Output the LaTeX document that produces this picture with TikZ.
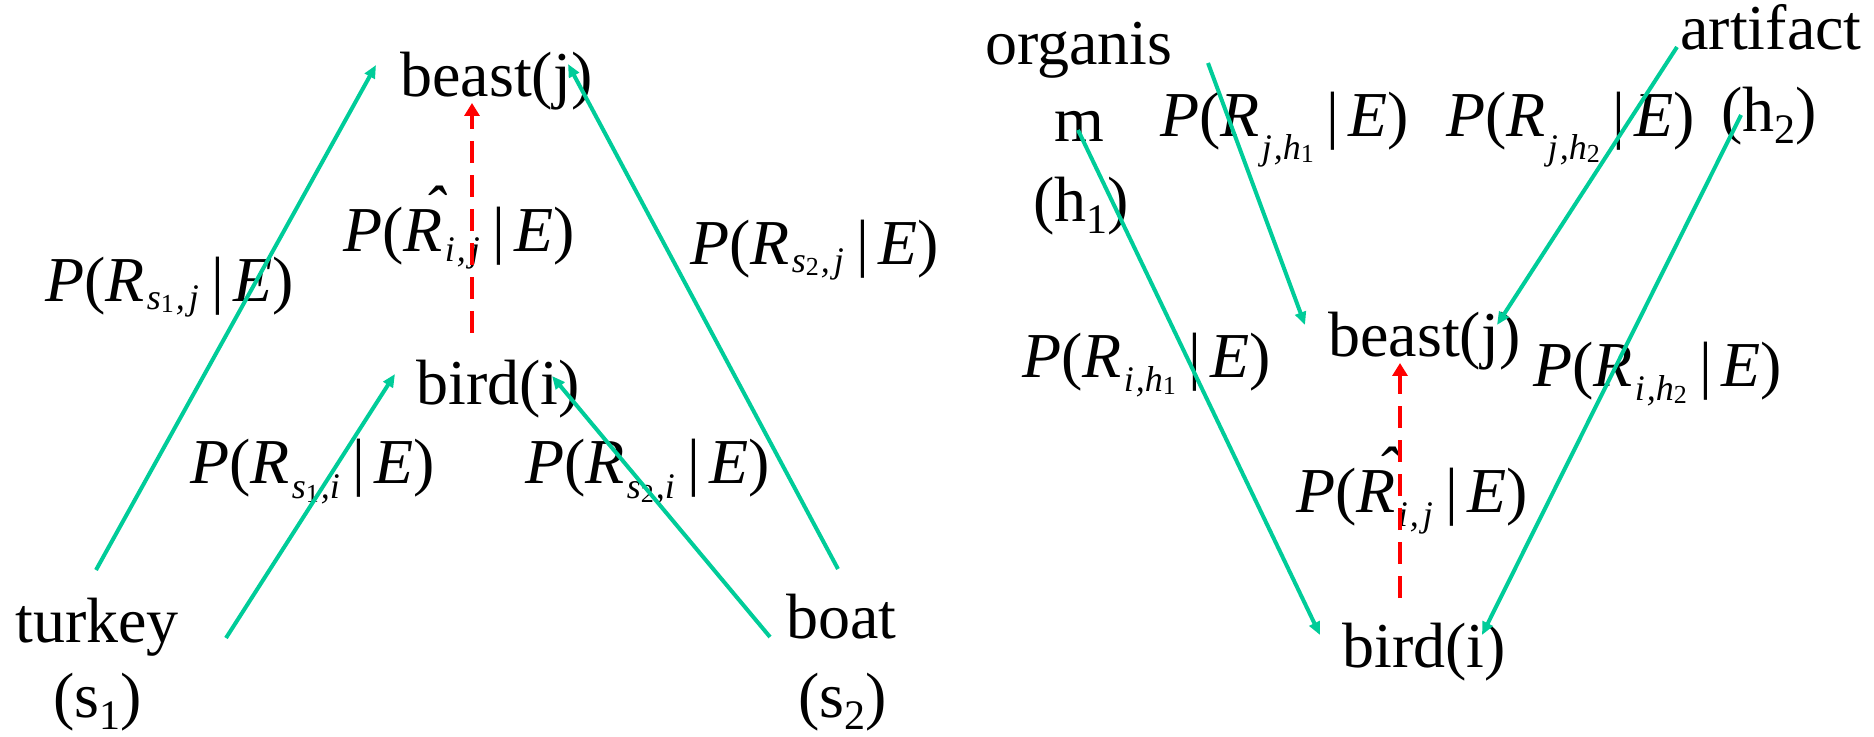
\documentclass[tikz,border=0pt]{standalone}
\usepackage{fontspec}
\setmainfont{Liberation Serif}
\usetikzlibrary{arrows.meta}
\definecolor{tgreen}{RGB}{0,204,153}
\newcommand\subpart[2]{\raisebox{-#1}{\fontsize{18}{18}\selectfont #2}}
\newcommand\subsub[1]{\raisebox{-1.5pt}{\fontsize{13}{13}\selectfont\upshape #1}}
\newcommand\Rhat{\makebox[0pt][l]{\hspace{10pt}\raisebox{10.5pt}{\char"02C6}}R}
\newcommand\lab[3]{{\fontsize{32}{40}\selectfont\itshape P\upshape(\itshape #1\hspace{1pt}\subpart{#2}{#3}\hspace{6.5pt}\upshape|\hspace{4.5pt}\itshape E\upshape)}}
\newcommand\txtsub[1]{\raisebox{-6pt}{\fontsize{21}{21}\selectfont #1}}
\begin{document}
\begin{tikzpicture}[x=0.5pt,y=-0.5pt,
  word/.style={anchor=base west,inner sep=0pt,font=\fontsize{32}{38}\selectfont},
  mlab/.style={anchor=base west,inner sep=0pt},
  garrow/.style={draw=tgreen,line width=2pt,-{Triangle[length=6.5pt,width=5.5pt]},tgreen},
  rarrow/.style={draw=red,line width=2.2pt,dash pattern=on 11pt off 6pt,-{Triangle[length=6.5pt,width=7.5pt]},red}]
\useasboundingbox (0,0) rectangle (1874,737);
% ---------- left panel ----------
\node[word] (beastL) at (400,97) {beast(j)};
\node[word] (birdL) at (416,405) {bird(i)};
\node[word] (turkey) at (15,642) {turkey};
\node[word] (s1) at (53,717) {(s\txtsub{1})};
\node[word] (boat) at (786,638) {boat};
\node[word] (s2) at (798,717) {(s\txtsub{2})};
\node[mlab] (l1) at (45,302) {\lab{R}{4pt}{\textit{s}\subsub{1}\hspace{1pt},\hspace{2pt}\textit{j}}};
\node[mlab] (l2) at (343,252) {\lab{\Rhat}{5pt}{\textit{i}\hspace{1pt},\hspace{2pt}\textit{j}}};
\node[mlab] (l3) at (690,265) {\lab{R}{4pt}{\textit{s}\subsub{2}\hspace{1pt},\hspace{2pt}\textit{j}}};
\node[mlab] (l4) at (190,483) {\lab{R}{8pt}{\textit{s}\subsub{1}\hspace{1pt},\textit{i}}};
\node[mlab] (l5) at (525,483) {\lab{R}{8pt}{\textit{s}\subsub{2}\hspace{1pt},\textit{i}}};
\coordinate (a1s) at (96,570);   \coordinate (a1e) at (376,65);
\coordinate (a2s) at (226,638);  \coordinate (a2e) at (395,374);
\coordinate (a3s) at (770,637);  \coordinate (a3e) at (552,376);
\coordinate (a4s) at (838,569);  \coordinate (a4e) at (568,64);
\coordinate (rLs) at (472,333);  \coordinate (rLe) at (472,103);
\draw[garrow] (a1s) -- (a1e);
\draw[garrow] (a2s) -- (a2e);
\draw[garrow] (a3s) -- (a3e);
\draw[garrow] (a4s) -- (a4e);
\draw[rarrow] (rLs) -- (rLe);
% ---------- right panel ----------
\node[word] (organis) at (985,65) {organis};
\node[word] (m) at (1054,142) {m};
\node[word] (h1) at (1033,222) {(h\txtsub{1})};
\node[word] (artifact) at (1680,50) {artifact};
\node[word] (h2) at (1721,132) {(h\txtsub{2})};
\node[word] (beastR) at (1328,357) {beast(j)};
\node[word] (birdR) at (1342,667) {bird(i)};
\node[mlab] (r1) at (1160,137) {\lab{R}{11.5pt}{\textit{j}\hspace{1pt},\textit{h}\subsub{1}}};
\node[mlab] (r2) at (1446,137) {\lab{R}{11.5pt}{\textit{j}\hspace{1pt},\textit{h}\subsub{2}}};
\node[mlab] (r3) at (1022,378) {\lab{R}{7pt}{\textit{i}\hspace{1pt},\textit{h}\subsub{1}}};
\node[mlab] (r4) at (1533,387) {\lab{R}{7pt}{\textit{i}\hspace{1pt},\textit{h}\subsub{2}}};
\node[mlab] (r5) at (1296,512) {\lab{\Rhat}{7pt}{\textit{i}\hspace{1pt},\hspace{2pt}\textit{j}}};
\coordinate (b1s) at (1208,63);  \coordinate (b1e) at (1305,325);
\coordinate (b2s) at (1677,47);  \coordinate (b2e) at (1497,325);
\coordinate (b3s) at (1078,130); \coordinate (b3e) at (1320,635);
\coordinate (b4s) at (1741,115); \coordinate (b4e) at (1482,635);
\coordinate (rRs) at (1400,598); \coordinate (rRe) at (1400,363);
\draw[garrow] (b1s) -- (b1e);
\draw[garrow] (b2s) -- (b2e);
\draw[garrow] (b3s) -- (b3e);
\draw[garrow] (b4s) -- (b4e);
\draw[rarrow] (rRs) -- (rRe);
\end{tikzpicture}
\end{document}
